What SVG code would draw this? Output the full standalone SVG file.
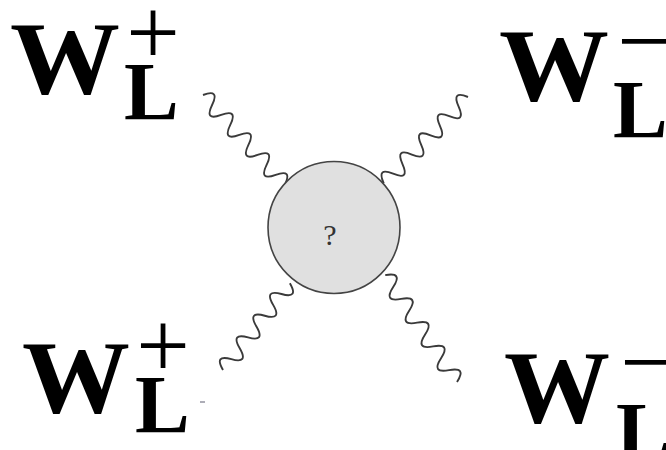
<svg xmlns="http://www.w3.org/2000/svg" width="666" height="450" viewBox="0 0 666 450">
<style>
.w{font-family:"Liberation Serif","Times New Roman",serif;font-weight:bold;font-size:104px;fill:#000}
.l{font-family:"Liberation Serif","Times New Roman",serif;font-weight:bold;font-size:82px;fill:#000}
.s{font-family:"Liberation Serif","Times New Roman",serif;font-size:95px;fill:#000;text-anchor:middle}
.wave{fill:none;stroke:#3a3a3a;stroke-width:1.9;stroke-linejoin:round}
</style>
<rect width="666" height="450" fill="#fff"/>
<g id="connectors">
<path class="wave" transform="translate(203,95) rotate(47.7)" d="M0 0q6.75 -17 13.5 0t13.5 0t13.5 0t13.5 0t13.5 0t13.5 0t13.5 0t13.5 0t13.5 0"/>
<path class="wave" transform="translate(468,97) rotate(134.3)" d="M0 0q6.7 17 13.4 0t13.4 0t13.4 0t13.4 0t13.4 0t13.4 0t13.4 0t13.4 0t13.4 0"/>
<path class="wave" transform="translate(223,370) rotate(-52.4)" d="M0 0q6.85 -17 13.7 0t13.7 0t13.7 0t13.7 0t13.7 0t13.7 0t13.7 0t13.7 0"/>
<path class="wave" transform="translate(457,382) rotate(-123.9)" d="M0 0q7.15 17 14.3 0t14.3 0t14.3 0t14.3 0t14.3 0t14.3 0t14.3 0t14.3 0t14.3 0"/>
</g>
<g id="blob">
<circle cx="334" cy="227.5" r="66" fill="#e0e0e0" stroke="#444" stroke-width="1.6"/>
<text x="330" y="245" font-family="Liberation Serif, serif" font-size="30" fill="#333" text-anchor="middle">?</text>
</g>
<g id="w-tl">
<text class="w" x="10" y="93" textLength="110" lengthAdjust="spacingAndGlyphs">W</text>
<text class="s" x="153" y="64">+</text>
<text class="l" x="124" y="119">L</text>
</g>
<g id="w-tr">
<text class="w" x="499" y="100" textLength="110" lengthAdjust="spacingAndGlyphs">W</text>
<text class="s" x="644" y="73">−</text>
<text class="l" x="613" y="137">L</text>
</g>
<g id="w-bl">
<text class="w" x="22" y="412" textLength="108" lengthAdjust="spacingAndGlyphs">W</text>
<text class="s" x="163" y="377">+</text>
<text class="l" x="135" y="432">L</text>
<line x1="200" y1="402" x2="205" y2="402" stroke="#778" stroke-width="1.2"/>
</g>
<g id="w-br">
<text class="w" x="504" y="422" textLength="106" lengthAdjust="spacingAndGlyphs">W</text>
<text class="s" x="647" y="394">−</text>
<text class="l" x="616" y="459">L</text>
</g>
</svg>
